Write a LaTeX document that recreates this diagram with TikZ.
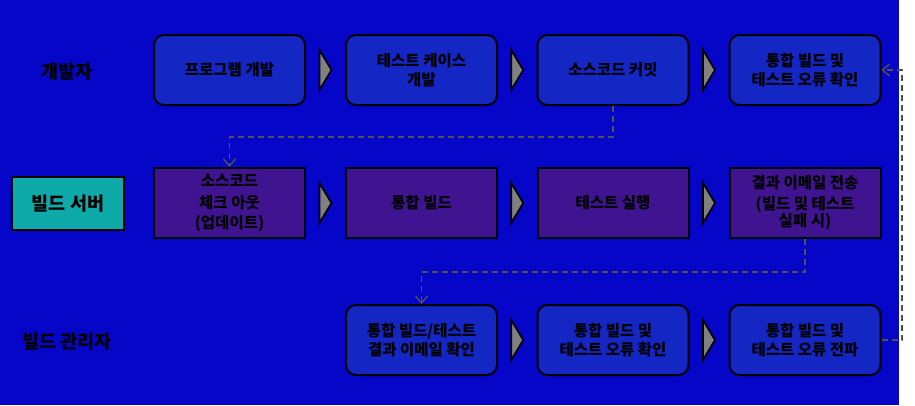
\documentclass[tikz,border=0pt]{standalone}
\usepackage{fontspec}
\setmainfont{Noto Sans CJK KR}
\usetikzlibrary{arrows.meta,calc}
\definecolor{bgblue}{RGB}{6,6,200}
\definecolor{devblue}{RGB}{20,38,195}
\definecolor{srvpurple}{RGB}{64,20,145}
\definecolor{srvcyan}{RGB}{14,170,170}
\definecolor{tgray}{RGB}{128,128,128}
\definecolor{dgray}{RGB}{80,80,80}
\tikzset{
  boxtext/.style={font=\fontsize{15.5}{19.5}\selectfont\bfseries, align=center, text=black},
  rbox/.style={boxtext, draw=black, line width=2pt, rounded corners=10pt, fill=devblue,
    minimum width=151pt, minimum height=70pt, inner sep=0pt},
  sbox/.style={boxtext, draw=black, line width=2pt, fill=srvpurple,
    minimum width=151pt, minimum height=70pt, inner sep=0pt},
  cbox/.style={font=\fontsize{18.5}{22}\selectfont\bfseries, text=black, draw=black, line width=2pt,
    fill=srvcyan, minimum width=112pt, minimum height=53pt, inner sep=0pt},
  rolelabel/.style={font=\fontsize{18.5}{22}\selectfont\bfseries, text=black},
  tri/.style={draw=black, line width=1.8pt, fill=tgray, line join=miter},
  dconn/.style={draw=dgray, line width=1.8pt, dash pattern=on 6pt off 4pt,
    -{Straight Barb[length=7pt,width=12pt,line width=1.4pt]}}
}
\newcommand{\flowtri}[2]{%
  \coordinate (m) at ($(#1.east)!0.5!(#2.west)$);
  \draw[tri] ($(m)+(-6,-20)$) -- ($(m)+(6,0)$) -- ($(m)+(-6,20)$) -- cycle;}
\begin{document}
\begin{tikzpicture}[x=1pt,y=-1pt]
\useasboundingbox (0,0) rectangle (915,405);
\fill[white] (0,0) rectangle (915,405);
\fill[bgblue] (0,0) rectangle (899,405);
% role labels
\node[rolelabel] (dev) at (67,72) {개발자};
\node[cbox] (srv) at (68,203.5) {빌드 서버};
\node[rolelabel] (mgr) at (67,342) {빌드 관리자};
% row 1
\node[rbox] (a1) at (229.5,70) {프로그램 개발};
\node[rbox] (a2) at (421.5,70) {테스트 케이스\\개발};
\node[rbox] (a3) at (613,70) {소스코드 커밋};
\node[rbox] (a4) at (805,70) {통합 빌드 및\\테스트 오류 확인};
% row 2
\node[sbox] (b1) at (229.5,203) {\raisebox{0pt}[0pt][0pt]{}소스코드\\[2pt]체크 아웃\\[1pt](업데이트)};
\node[sbox] (b2) at (421.5,203) {통합 빌드};
\node[sbox] (b3) at (613,203) {테스트 실행};
\node[sbox] (b4) at (805,203) {결과 이메일 전송\\[1pt](빌드 및 테스트\\[-2pt]실패 시)};
% row 3
\node[rbox] (c1) at (421.5,340) {통합 빌드/테스트\\결과 이메일 확인};
\node[rbox] (c2) at (613,340) {통합 빌드 및\\테스트 오류 확인};
\node[rbox] (c3) at (805,340) {통합 빌드 및\\테스트 오류 전파};
% flow triangles
\flowtri{a1}{a2}\flowtri{a2}{a3}\flowtri{a3}{a4}
\flowtri{b1}{b2}\flowtri{b2}{b3}\flowtri{b3}{b4}
\flowtri{c1}{c2}\flowtri{c2}{c3}
% dashed connectors
\draw[dconn] (a3.south) -- ++(0,31) -| (b1.north);
\draw[dconn] (b4.south) -- ++(0,33) -| (c1.north);
\coordinate (rt) at (902,340);
\draw[dconn] (c3.east) -- (rt) |- (a4.east);
\end{tikzpicture}
\end{document}
